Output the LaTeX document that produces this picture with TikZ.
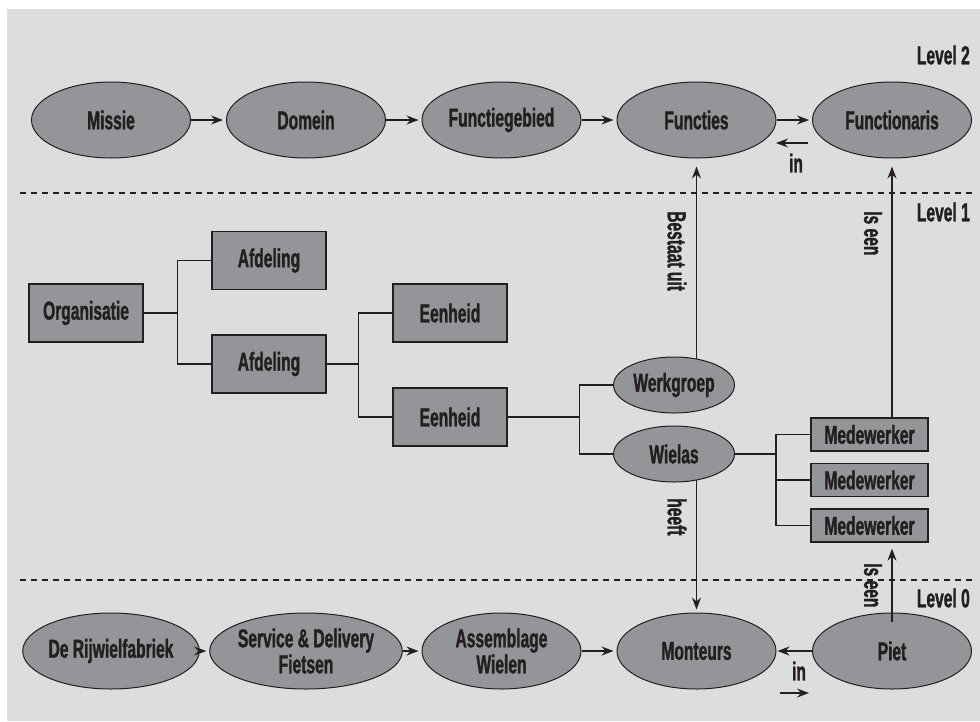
\documentclass[tikz,border=0pt]{standalone}
\usepackage{fontspec}
\setmainfont{Liberation Sans}[FakeStretch=0.6, BoldFeatures={FakeBold=1.2}]
\usetikzlibrary{shapes.geometric,arrows.meta,calc}
\definecolor{bggray}{RGB}{220,221,223}
\definecolor{nodegray}{RGB}{148,149,153}
\definecolor{ink}{RGB}{35,31,32}
\pgfdeclarelayer{bg}
\pgfdeclarelayer{lines}
\pgfsetlayers{bg,lines,main}
\tikzset{
  txt/.style={font=\bfseries\fontsize{26}{26}\selectfont, text=ink},
  bigell/.style={ellipse, draw=ink, line width=1pt, fill=nodegray, txt, inner sep=0pt, minimum width=159pt, minimum height=76pt, align=center},
  smallell/.style={ellipse, draw=ink, line width=1pt, fill=nodegray, txt, inner sep=0pt, minimum width=121pt, minimum height=56pt},
  orgbox/.style={rectangle, draw=ink, line width=1.3pt, fill=nodegray, txt, inner sep=0pt, minimum width=114pt, minimum height=58pt},
  medbox/.style={rectangle, draw=ink, line width=1.3pt, fill=nodegray, txt, inner sep=0pt, minimum width=117pt, minimum height=33pt},
  arr/.style={draw=ink, line width=1.2pt, -{Stealth[length=12pt,width=9pt,inset=4pt]}},
  conn/.style={draw=ink, line width=1.2pt},
  levelline/.style={draw=ink, line width=2pt, dash pattern=on 6pt off 5pt},
  lbl/.style={txt, inner sep=0pt},
}
\begin{document}
\begin{tikzpicture}[x=1pt,y=-1pt]
\useasboundingbox (0,0) rectangle (980,721);
\begin{pgfonlayer}{bg}
\fill[white] (0,0) rectangle (980,721);
\fill[bggray] (7,9) rectangle (980,721);
\end{pgfonlayer}

% Level 2
\node[bigell] (missie) at (111,120) {Missie};
\node[bigell] (domein) at (306,120) {Domein};
\node[bigell] (fgeb) at (501.5,120) {Functiegebied};
\node[bigell] (functies) at (696.5,120) {Functies};
\node[bigell] (functionaris) at (892,120) {Functionaris};

% Level 0
\node[bigell] (rijwiel) at (111,651) {De Rijwielfabriek};
\node[bigell] (service) at (306,651) {Service \& Delivery\\Fietsen};
\node[bigell] (assemblage) at (501.5,651) {Assemblage\\Wielen};
\node[bigell] (monteurs) at (696.5,651) {Monteurs};
\node[bigell] (piet) at (892,651) {Piet};

% Level 1
\node[orgbox] (org) at (86,313) {Organisatie};
\node[orgbox] (afd1) at (269,260.5) {Afdeling};
\node[orgbox] (afd2) at (269,364) {Afdeling};
\node[orgbox] (een1) at (450,313) {Eenheid};
\node[orgbox] (een2) at (450,417) {Eenheid};
\node[smallell] (werk) at (674,385) {Werkgroep};
\node[smallell] (wielas) at (674,454) {Wielas};
\node[medbox] (med1) at (869.5,434.5) {Medewerker};
\node[medbox] (med2) at (869.5,480) {Medewerker};
\node[medbox] (med3) at (869.5,525.5) {Medewerker};

% level separators and labels
\coordinate (d1a) at (20,193); \coordinate (d1b) at (976,193);
\coordinate (d2a) at (20,580); \coordinate (d2b) at (976,580);
\draw[levelline] (d1a) -- (d1b);
\draw[levelline] (d2a) -- (d2b);
\node[lbl, anchor=east] (lv2) at (970,55) {Level 2};
\node[lbl, anchor=east] (lv1) at (970,212) {Level 1};
\node[lbl, anchor=east] (lv0) at (970,598) {Level 0};

% horizontal chains
\draw[arr, shorten >=3pt] (missie) -- (domein);
\draw[arr, shorten >=3pt] (domein) -- (fgeb);
\draw[arr, shorten >=3pt] (fgeb) -- (functies);
\draw[arr, shorten >=3pt] (functies) -- (functionaris);
\draw[arr, shorten >=3pt] (rijwiel) -- (service);
\draw[arr, shorten >=3pt] (service) -- (assemblage);
\draw[arr, shorten >=3pt] (assemblage) -- (monteurs);
\draw[arr, shorten >=1pt] (piet) -- (monteurs);

% "in" markers
\coordinate (in1a) at (808,143); \coordinate (in1b) at (776,143);
\draw[arr] (in1a) -- (in1b);
\node[lbl] (in1) at (796,163) {in};
\coordinate (in2a) at (780,693); \coordinate (in2b) at (809,693);
\draw[arr] (in2a) -- (in2b);
\node[lbl] (in2) at (799,671) {in};

% tree brackets
\begin{pgfonlayer}{lines}
\draw[conn] (org.east) -- ++(34,0) coordinate (b1) |- (afd1.west);
\draw[conn] (b1) |- (afd2.west);
\draw[conn] (afd2.east) -- ++(32,0) coordinate (b2) |- (een1.west);
\draw[conn] (b2) |- (een2.west);
\draw[conn] (een2.east) -- ++(72,0) coordinate (b3) |- (werk.west);
\draw[conn] (b3) |- (wielas.west);
\draw[conn] (wielas.east) -- ++(41,0) coordinate (b4) |- (med1.west);
\draw[conn] (b4) |- (med2.west);
\draw[conn] (b4) |- (med3.west);
% vertical relations
\draw[arr, shorten >=8pt] (functies.south |- werk.center) -- (functies.south);
\draw[arr, shorten >=8pt] (functionaris.south |- med1.center) -- (functionaris.south);
\draw[arr, shorten >=3pt] (monteurs.north |- wielas.center) -- (monteurs.north);
\end{pgfonlayer}
\draw[arr, shorten >=6pt] ([yshift=-9pt]piet.north) -- (med3.south -| piet.north);

% rotated labels
\node[lbl, rotate=-90, anchor=west] (bestaat) at (677,211) {Bestaat uit};
\node[lbl, rotate=-90, anchor=west] (iseen1) at (873,211) {Is een};
\node[lbl, rotate=-90, anchor=west] (heeft) at (677,498) {heeft};
\node[lbl, rotate=-90, anchor=west] (iseen2) at (873,563) {Is een};
\end{tikzpicture}
\end{document}
